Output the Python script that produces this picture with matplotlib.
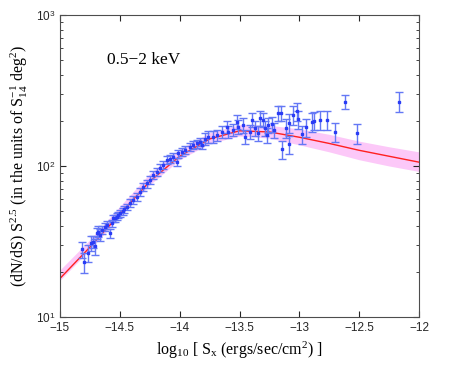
import numpy as np
import matplotlib
matplotlib.use("Agg")
from matplotlib import pyplot as plt

# measured differential counts (0.5-2 keV)
log_sx = [-14.819, -14.802, -14.764, -14.741, -14.727, -14.708, -14.693, -14.680, -14.666, -14.647,
          -14.624, -14.610, -14.582, -14.568, -14.555, -14.541, -14.526, -14.513, -14.499, -14.471,
          -14.463, -14.443, -14.415, -14.388, -14.359, -14.332, -14.304, -14.276, -14.248, -14.221,
          -14.192, -14.165, -14.137, -14.109, -14.081, -14.053, -14.025, -14.012, -13.983, -13.956,
          -13.914, -13.886, -13.858, -13.830, -13.816, -13.789, -13.761, -13.719, -13.691, -13.649,
          -13.607, -13.594, -13.552, -13.524, -13.510, -13.469, -13.454, -13.413, -13.398, -13.371,
          -13.343, -13.329, -13.302, -13.287, -13.260, -13.268, -13.231, -13.212, -13.176, -13.156,
          -13.143, -13.112, -13.087, -13.084, -13.051, -13.023, -13.009, -12.976, -12.945, -12.897,
          -12.878, -12.828, -12.767, -12.705, -12.617, -12.521, -12.168]
counts = [28.0, 23.1, 26.7, 30.8, 31.5, 29.3, 35.8, 36.8, 35.0, 37.7,
          39.7, 40.7, 35.8, 41.7, 45.1, 45.0, 46.1, 47.4, 48.6, 50.0,
          51.6, 53.8, 56.7, 59.6, 62.7, 67.6, 72.9, 76.6, 80.9, 87.0,
          91.5, 96.6, 101.7, 110, 112, 115, 107, 121, 124, 127,
          134, 138, 141, 145, 138, 152, 156, 156, 160, 169,
          182, 169, 173, 196, 182, 187, 156, 169, 202, 178,
          165, 207, 202, 178, 187, 160, 189, 173, 223, 223,
          129, 179, 193, 139, 218, 230, 204, 162, 180, 196,
          200, 202, 202, 169, 267, 165, 267]
counts_err = [3.3, 3.5, 3.5, 3.5, 3.0, 3.5, 3.0, 3.0, 3.0, 2.5,
              2.5, 2.5, 2.5, 2.5, 2.5, 2.5, 2.5, 2.5, 2.5, 2.5,
              2.5, 2.5, 3.5, 3.6, 3.8, 4.0, 4.4, 4.6, 4.9, 5.2,
              5.5, 5.8, 6.1, 6.6, 6.7, 6.9, 6.4, 7.3, 7.4, 7.6,
              8.0, 8.3, 8.5, 8.7, 8.3, 14, 14, 14, 14, 15,
              16, 15, 16, 21, 20, 21, 17, 19, 22, 20,
              18, 23, 22, 20, 21, 18, 21, 19, 25, 25,
              18, 25, 27, 19, 31, 32, 29, 23, 25, 27,
              28, 28, 28, 24, 29, 25, 40]

# best-fit model and its uncertainty band
model_x = [-15, -14.75, -14.5, -14.25, -14, -13.75, -13.5, -13.25, -13, -12.75, -12.5, -12.25, -12]
model_y = [18, 29, 48, 79, 116, 151, 171, 168, 155, 141, 127, 116, 106]
band_hi = [20.5, 32.5, 54, 89, 130, 166, 188, 186, 176, 162, 146, 134, 124]
band_lo = [17.5, 28, 46, 75, 110, 141, 158, 153, 138, 124, 110, 100, 92]

plt.rcParams['font.family'] = ['Liberation Sans', 'DejaVu Sans']
plt.rcParams['mathtext.fontset'] = 'custom'
plt.rcParams['mathtext.rm'] = 'Liberation Serif'
plt.rcParams['mathtext.it'] = 'Liberation Serif:italic'
plt.rcParams['mathtext.bf'] = 'Liberation Serif:bold'
plt.rcParams['mathtext.sf'] = 'Liberation Sans'

fig = plt.figure(figsize=(4.63, 3.71), dpi=100)
ax = fig.add_axes([0.1296, 0.1456, 0.7754, 0.814])

ax.fill_between(model_x, band_lo, band_hi, color='#fcc8f8', lw=0)
ax.plot(model_x, model_y, color='#ff2020', lw=1.0)
ax.errorbar(log_sx, counts, yerr=counts_err, fmt='s', ms=2, color='#2a3cf5',
            ecolor='#6478f5', elinewidth=1.0, capsize=3, capthick=1.0)

ax.set_yscale('log')
ax.set_xlim(-15, -12)
ax.set_ylim(10, 1000)
ax.set_yticks([10, 100, 1000])
ax.set_yticklabels([r'$\mathsf{10}^{\mathsf{1}}$', r'$\mathsf{10}^{\mathsf{2}}$', r'$\mathsf{10}^{\mathsf{3}}$'])
ax.set_xticks(np.arange(-15, -11.9, 0.5))
ax.set_xticklabels(['\u221215', '\u221214.5', '\u221214', '\u221213.5', '\u221213', '\u221212.5', '\u221212'])
ax.tick_params(which='both', direction='in', top=True, right=True, labelsize=8.5, colors='0.15')
ax.tick_params(which='major', length=4)
ax.tick_params(which='minor', length=2)
for s in ax.spines.values():
    s.set_color('0.3')
    s.set_linewidth(0.8)

ax.text(0.13, 0.85, '0.5\u22122 keV', transform=ax.transAxes, fontsize=12.5,
        family='Liberation Serif', va='center')
ax.set_xlabel(r'log$_{10}$ [ S$_{\rm x}$ (ergs/sec/cm$^{2}$) ]', family='Liberation Serif', fontsize=11.5)
ax.set_ylabel(r'(dN/dS) S$^{2.5}$ (in the units of S$_{14}^{-1}$ deg$^{2}$)',
              family='Liberation Serif', fontsize=11.5)

fig.savefig('out.png', dpi=100)
